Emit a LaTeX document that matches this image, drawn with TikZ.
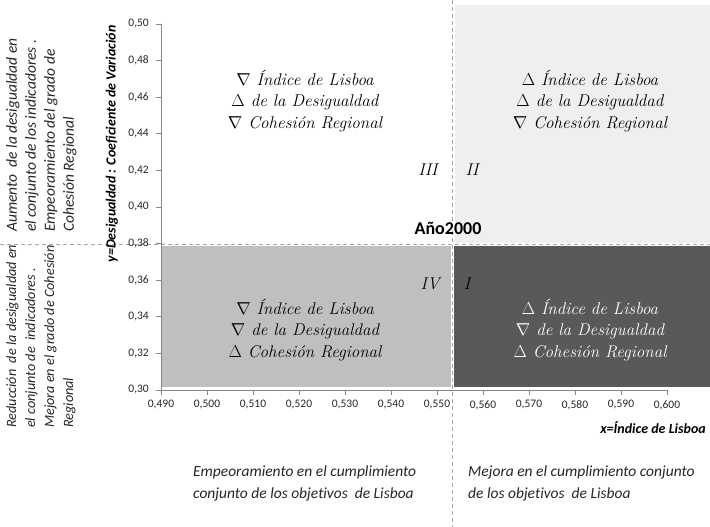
\documentclass[tikz,border=0pt]{standalone}
\usepackage{fontspec}
\setsansfont{Carlito}[Ligatures=CommonOff]
\definecolor{qtwo}{HTML}{EFEFEF}
\definecolor{qfour}{HTML}{BFBFBF}
\definecolor{qone}{HTML}{595959}
\definecolor{axisc}{HTML}{868686}
\definecolor{dashc}{HTML}{A6A6A6}
\definecolor{txt}{HTML}{262626}
\tikzset{
  ticklab/.style={font=\sffamily\fontsize{11.5}{13}\selectfont, text=txt, inner sep=0pt},
  quadtxt/.style={font=\fontsize{17}{21.5}\selectfont\itshape, align=center, inner sep=0pt},
  roman/.style={font=\fontsize{17}{20}\selectfont\itshape, inner sep=0pt},
  sidetxt/.style={font=\sffamily\itshape\fontsize{15.5}{19}\selectfont, align=left, rotate=90, anchor=north west, inner sep=0pt},
  sidetxtb/.style={font=\sffamily\itshape\fontsize{14.2}{19}\selectfont, align=left, rotate=90, anchor=north west, inner sep=0pt},
  bottxt/.style={font=\sffamily\itshape\fontsize{15.5}{22}\selectfont, align=left, anchor=west, inner sep=0pt},
  dashln/.style={draw=dashc, line width=0.8pt, dash pattern=on 4pt off 3pt},
}
\begin{document}
\begin{tikzpicture}[x=1pt,y=-1pt]
\useasboundingbox (0,0) rectangle (710,527);
% quadrant fills
\fill[qtwo] (455,5) rectangle (710,243);
\fill[qfour] (162,246) rectangle (451,387);
\fill[qone] (454,246) rectangle (710,387);
% dashed separators
\coordinate (hl) at (0,244);
\coordinate (hr) at (710,244);
\coordinate (vt) at (452.5,0);
\coordinate (vb) at (452.5,527);
\draw[dashln] (hl) -- (hr);
\draw[dashln] (vt) -- (vb);
% axes
\coordinate (ytop) at (161,24);
\coordinate (orig) at (161,390);
\coordinate (xend) at (667,390);
\draw[axisc, line width=0.8pt] (ytop) -- (orig) -- (xend);
\foreach \i/\t in {0/{0,30},1/{0,32},2/{0,34},3/{0,36},4/{0,38},5/{0,40},6/{0,42},7/{0,44},8/{0,46},9/{0,48},10/{0,50}}{
  \draw[axisc, line width=0.8pt] (156,390-36.6*\i) -- (161,390-36.6*\i);
  \node[ticklab, anchor=east] (yl\i) at (149,390-36.6*\i) {\t};
}
\foreach \i/\t in {0/{0,490},1/{0,500},2/{0,510},3/{0,520},4/{0,530},5/{0,540},6/{0,550},7/{0,560},8/{0,570},9/{0,580},10/{0,590},11/{0,600}}{
  \draw[axisc, line width=0.8pt] (161+46*\i,390) -- (161+46*\i,395);
  \node[ticklab] (xl\i) at (161+46*\i,405) {\t};
}
% axis titles
\node[font=\sffamily\bfseries\itshape\fontsize{14}{16}\selectfont, text=black, rotate=90, inner sep=0pt] (ytitle) at (112,144) {y=Desigualdad : Coeficiente de Variación};
\node[font=\sffamily\bfseries\itshape\fontsize{14}{16}\selectfont, text=black, anchor=east, inner sep=0pt] (xtitle) at (706,428) {x=Índice de Lisboa};
% year
\node[font=\sffamily\bfseries\fontsize{18}{20}\selectfont, inner sep=0pt] (year) at (448,228) {Año2000};
% roman numerals
\node[roman] (q3) at (428,170) {III};
\node[roman] (q2) at (472,170) {II};
\node[roman] (q4) at (430,284) {IV};
\node[roman] (q1) at (467,284) {I};
% quadrant texts
\node[quadtxt] (tl) at (305,101) {$\nabla$ Índice de Lisboa\\ $\Delta$ de la Desigualdad\\ $\nabla$ Cohesión Regional};
\node[quadtxt] (tr) at (590,101) {$\Delta$ Índice de Lisboa\\ $\Delta$ de la Desigualdad\\ $\nabla$ Cohesión Regional};
\node[quadtxt] (bl) at (305,330) {$\nabla$ Índice de Lisboa\\ $\nabla$ de la Desigualdad\\ $\Delta$ Cohesión Regional};
\node[quadtxt, text=white] (br) at (590,330) {$\Delta$ Índice de Lisboa\\ $\nabla$ de la Desigualdad\\ $\Delta$ Cohesión Regional};
% side texts
\node[sidetxt, text=txt] (sideup) at (6,232) {Aumento \ de la desigualdad en\\ el conjunto de los indicadores .\\ Empeoramiento del grado de\\ Cohesión Regional};
\node[sidetxtb, text=txt] (sidedown) at (6,428) {Reducción \ de la desigualdad en\\ el conjunto de \ indicadores .\\ Mejora en el grado de Cohesión\\ Regional};
% bottom texts
\node[bottxt, text=txt] (botl) at (193,483) {Empeoramiento en el cumplimiento\\ conjunto de los objetivos \ de Lisboa};
\node[bottxt, text=txt] (botr) at (468,483) {Mejora en el cumplimiento conjunto\\ de los objetivos \ de Lisboa};
\end{tikzpicture}
\end{document}
